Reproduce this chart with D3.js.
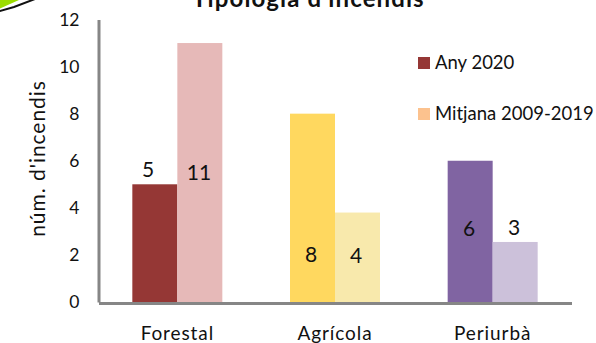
<!DOCTYPE html>
<html><head><meta charset="utf-8">
<script src="https://cdn.jsdelivr.net/npm/d3@7"></script>
<style>html,body{margin:0;padding:0;background:#fff;overflow:hidden}text{font-family:Lato,"Open Sans",sans-serif;fill:#111}</style>
</head><body><svg id="c" width="596" height="343"></svg>
<script>
const categories=["Forestal","Agrícola","Periurbà"];
const values2020=[5,8,6];
const valuesAvg=[11,3.8,2.55];
const labels2020=["5","8","6"];
const labelsAvg=["11","4","3"];
const colors2020=["#953735","#FFD85F","#8064A2"];
const colorsAvg=["#E6B9B8","#F8E9AC","#CCC1DA"];
const yTicks=[0,2,4,6,8,10,12];
// hand-placed label anchors, as in the reference (not data)
const labelPos2020=[[148,172],[311,257],[469,231]];
const labelPosAvg=[[199,175],[356,258],[514,230]];
const svg=d3.select("#c");
const x=d3.scaleBand().domain(categories).range([98.5,571.5]);
const y=d3.scaleLinear().domain([0,12]).range([302,19.5]);
const barW=45;
const cx=c=>x(c)+x.bandwidth()/2;
svg.append("path").attr("d","M-2 9.5 L19 0 L19 -2 L-2 -2 Z").attr("fill","#9BDC00");
svg.append("path").attr("d","M19 0 L22 -2 L27 -2 Z").attr("fill","#bbb");
svg.append("path").attr("d","M-2 11.5 L14 7 L35 -1").attr("fill","none").attr("stroke","#111").attr("stroke-width",2);
svg.append("text").attr("x",308.5).attr("y",7).attr("text-anchor","middle").attr("font-size",24).attr("letter-spacing",1.1).attr("font-weight",700).text("Tipologia d'incendis");
categories.forEach((c,i)=>{
  svg.append("rect").attr("x",cx(c)-barW).attr("y",y(values2020[i])).attr("width",barW).attr("height",y(0)-y(values2020[i])).attr("fill",colors2020[i]);
  svg.append("rect").attr("x",cx(c)).attr("y",y(valuesAvg[i])).attr("width",barW).attr("height",y(0)-y(valuesAvg[i])).attr("fill",colorsAvg[i]);
  svg.append("text").attr("x",labelPos2020[i][0]).attr("y",labelPos2020[i][1]).attr("text-anchor","middle").attr("dominant-baseline","middle").attr("font-size",21).text(labels2020[i]);
  svg.append("text").attr("x",labelPosAvg[i][0]).attr("y",labelPosAvg[i][1]).attr("text-anchor","middle").attr("dominant-baseline","middle").attr("font-size",21).text(labelsAvg[i]);
});
const axL=svg.append("g").attr("transform","translate(98.5,0)").call(d3.axisLeft(y).tickValues(yTicks).tickSize(0).tickPadding(19));
axL.select(".domain").attr("stroke","#868686").attr("stroke-width",3);
axL.selectAll("text").attr("font-size",17.5).attr("font-family","Lato").attr("fill","#111");
const axB=svg.append("g").attr("transform","translate(0,303)").call(d3.axisBottom(x).tickSize(0).tickPadding(24));
axB.select(".domain").attr("stroke","#868686").attr("stroke-width",3);
axB.selectAll("text").attr("font-size",19).attr("letter-spacing",.9).attr("font-family","Lato").attr("fill","#111");
svg.append("text").attr("transform","translate(45,158.5) rotate(-90)").attr("text-anchor","middle").attr("font-size",21).attr("letter-spacing",.95).text("núm. d'incendis");
const legend=[["Any 2020","#953735",63],["Mitjana 2009-2019","#FCC28E",114]];
legend.forEach(([t,col,ly])=>{
  svg.append("rect").attr("x",418).attr("y",ly-6).attr("width",12).attr("height",12).attr("fill",col);
  svg.append("text").attr("x",435).attr("y",ly+1).attr("dominant-baseline","middle").attr("font-size",18.5).text(t);
});
</script></body></html>
